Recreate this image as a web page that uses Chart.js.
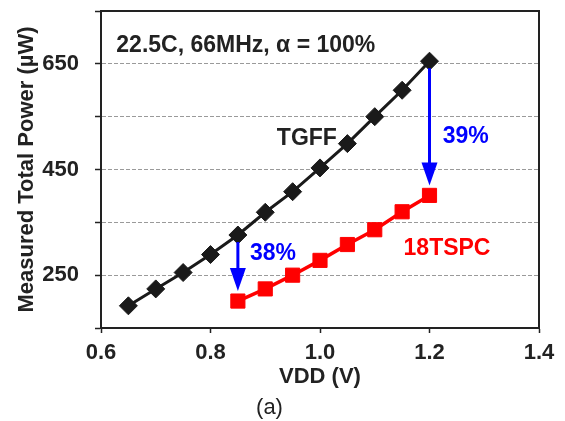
<!DOCTYPE html>
<html>
<head>
<meta charset="utf-8">
<script src="https://cdn.jsdelivr.net/npm/chart.js@4/dist/chart.umd.min.js"></script>
<style>
  html, body { margin: 0; padding: 0; background: #fff; }
  #wrap { width: 565px; height: 421px; }
</style>
</head>
<body>
<div id="wrap"><canvas id="power"></canvas></div>
<script>
// supply voltage sweep (V)
const vdd = [0.65, 0.70, 0.75, 0.80, 0.85, 0.90, 0.95, 1.00, 1.05, 1.10, 1.15, 1.20];
const vddTspc = [0.85, 0.90, 0.95, 1.00, 1.05, 1.10, 1.15, 1.20];

// measured total power (uW)
const tgffPower = [192, 224, 255, 289, 326, 369, 408, 453, 499, 550, 600, 655];
const tspcPower = [201, 224, 250, 278, 308, 336, 370, 401];

// where the savings arrows are drawn
const arrowVdd = [1.20, 0.85];

const yLabelled = [250, 450, 650];

const FONT = "'Liberation Sans', Arial, sans-serif";
const INK = '#222';

function powerAt(vs, ps, v) {
  const i = vs.findIndex(x => Math.abs(x - v) < 1e-6);
  return ps[i];
}

// text notes + blue arrows + top/right frame
const notes = {
  id: 'notes',
  afterDatasetsDraw(chart) {
    const {ctx, chartArea: a, scales: {x, y}} = chart;
    ctx.save();

    // frame
    ctx.strokeStyle = INK;
    ctx.lineWidth = 2;
    ctx.beginPath();
    ctx.moveTo(a.left, a.top);
    ctx.lineTo(a.right, a.top);
    ctx.lineTo(a.right, a.bottom);
    ctx.stroke();

    // arrows from TGFF down to 18TSPC
    ctx.strokeStyle = '#0000ff';
    ctx.fillStyle = '#0000ff';
    ctx.lineWidth = 3;
    for (const v of arrowVdd) {
      const px = x.getPixelForValue(v);
      const y0 = y.getPixelForValue(powerAt(vdd, tgffPower, v)) + 7;
      const y1 = y.getPixelForValue(powerAt(vddTspc, tspcPower, v)) - 10;
      ctx.beginPath();
      ctx.moveTo(px, y0);
      ctx.lineTo(px, y1 - 20);
      ctx.stroke();
      ctx.beginPath();
      ctx.moveTo(px - 8, y1 - 23);
      ctx.lineTo(px + 8, y1 - 23);
      ctx.lineTo(px, y1);
      ctx.closePath();
      ctx.fill();
    }

    const pct = v => {
      const a0 = powerAt(vdd, tgffPower, v);
      const b0 = powerAt(vddTspc, tspcPower, v);
      return Math.round((1 - b0 / a0) * 100) + '%';
    };

    ctx.font = 'bold 23px ' + FONT;
    ctx.textBaseline = 'middle';
    const put = (text, vx, vy, color, align) => {
      ctx.fillStyle = color;
      ctx.textAlign = align;
      ctx.fillText(text, x.getPixelForValue(vx), y.getPixelForValue(vy));
    };
    put('22.5C, 66MHz, \u03b1 = 100%', 0.628, 684, INK, 'left');
    put('TGFF', 0.976, 508, INK, 'center');
    put('18TSPC', 1.232, 300, '#ff0000', 'center');
    put(pct(1.20), 1.224, 513, '#0000ff', 'left');
    put(pct(0.85), 0.872, 291, '#0000ff', 'left');

    ctx.restore();
  }
};

new Chart(document.getElementById('power'), {
  type: 'line',
  data: {
    datasets: [
      {
        label: 'TGFF',
        data: vdd.map((v, i) => ({x: v, y: tgffPower[i]})),
        borderColor: '#1a1a1a',
        backgroundColor: '#1a1a1a',
        borderWidth: 3,
        pointStyle: 'rectRot',
        pointRadius: 9,
        pointBorderWidth: 1,
        tension: 0
      },
      {
        label: '18TSPC',
        data: vddTspc.map((v, i) => ({x: v, y: tspcPower[i]})),
        borderColor: '#ff0000',
        backgroundColor: '#ff0000',
        borderWidth: 3.5,
        pointStyle: 'rect',
        pointRadius: 10,
        pointBorderWidth: 1,
        tension: 0
      }
    ]
  },
  options: {
    responsive: true,
    maintainAspectRatio: false,
    animation: false,
    layout: {padding: {left: 0, right: 26, top: 7, bottom: 0}},
    plugins: {
      legend: {display: false},
      tooltip: {enabled: false},
      title: {
        display: true,
        position: 'bottom',
        text: '(a)',
        color: INK,
        font: {family: FONT, size: 22, weight: 'normal'},
        padding: {top: 0, bottom: 0}
      }
    },
    scales: {
      x: {
        type: 'linear',
        min: 0.6,
        max: 1.4,
        afterFit: s => { s.height = 66.6; s.paddingLeft = 0; s.paddingRight = 0; },
        border: {color: INK, width: 2},
        grid: {drawOnChartArea: false, tickLength: 5, tickColor: INK, tickWidth: 1.5},
        ticks: {
          stepSize: 0.2,
          padding: 7,
          color: INK,
          font: {family: FONT, size: 22, weight: 'bold'},
          callback: v => v.toFixed(1)
        },
        title: {
          display: true,
          text: 'VDD (V)',
          color: INK,
          font: {family: FONT, size: 22, weight: 'bold'},
          padding: {top: 0, bottom: 4}
        }
      },
      y: {
        min: 150,
        max: 750,
        afterFit: s => { s.width = 101; s.paddingTop = 0; s.paddingBottom = 0; },
        border: {color: INK, width: 2, dash: [4, 2]},
        grid: {
          color: c => (c.tick && (c.tick.value === 150 || c.tick.value === 750)) ? 'rgba(0,0,0,0)' : '#9a9a9a',
          lineWidth: 1,
          tickLength: 6,
          tickColor: INK,
          tickWidth: 1.5,
          tickBorderDash: []
        },
        ticks: {
          stepSize: 100,
          padding: 16,
          color: INK,
          font: {family: FONT, size: 22, weight: 'bold'},
          callback: v => yLabelled.includes(v) ? String(v) : ''
        },
        title: {
          display: true,
          text: 'Measured Total Power (\u00b5W)',
          color: INK,
          font: {family: FONT, size: 22, weight: 'bold'},
          padding: {top: 14, bottom: 0}
        }
      }
    }
  },
  plugins: [notes]
});
</script>
</body>
</html>
